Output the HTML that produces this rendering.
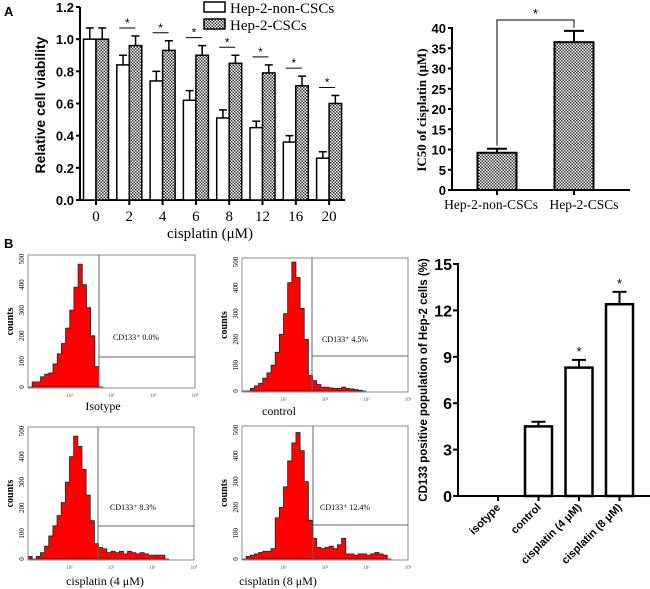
<!DOCTYPE html>
<html><head><meta charset="utf-8"><style>body{margin:0;background:#fff}svg{display:block}</style></head>
<body>
<svg id="fig" width="650" height="589" xmlns="http://www.w3.org/2000/svg">
<defs>
<pattern id="chk" width="3" height="3" patternUnits="userSpaceOnUse"><rect width="3" height="3" fill="#fff"/><rect width="1.5" height="1.5" fill="#333"/><rect x="1.5" y="1.5" width="1.5" height="1.5" fill="#333"/></pattern>
</defs>
<text x="4" y="16" font-family="Liberation Sans, sans-serif" font-weight="bold" font-size="13">A</text>
<text x="4" y="248" font-family="Liberation Sans, sans-serif" font-weight="bold" font-size="13">B</text>
<g id="ca"></g>
<g id="ci"></g>
<g id="cb"></g>
<g id="fl"></g>
</svg>
<script>
// Chart A data
const doses = ["0","2","4","6","8","12","16","20"];
const nonVals = [1.0,0.84,0.74,0.62,0.51,0.45,0.36,0.26];
const nonErr = [0.07,0.06,0.06,0.06,0.05,0.04,0.04,0.04];
const cscVals = [1.0,0.96,0.93,0.90,0.85,0.79,0.71,0.60];
const cscErr = [0.07,0.06,0.06,0.06,0.05,0.05,0.06,0.05];
const aTicks = ["0.0","0.2","0.4","0.6","0.8","1.0","1.2"];
// IC50 data
const icGroups = ["Hep-2-non-CSCs","Hep-2-CSCs"];
const icVals = [9.2,36.5];
const icErr = [1.0,2.8];
const icTicks = ["0","5","10","15","20","25","30","35","40"];
// CD133 chart data
const cdGroups = ["isotype","control","cisplatin (4 μM)","cisplatin (8 μM)"];
const cdVals = [0,4.5,8.3,12.4];
const cdErr = [0,0.3,0.5,0.8];
const cdStar = [false,false,true,true];
const cdTicks = ["0","3","6","9","12","15"];
// Flow histograms: counts per 0.1 log-decade bin starting at log 0
const hIso = [0,20,20,40,50,55,90,130,170,230,300,390,480,400,310,200,80,0];
const hCtrl = [0,0,10,20,30,50,70,100,150,220,300,420,500,440,320,200,60,40,25,15,15,12,10,10,15,10,8,5,3,0];
const hCis4 = [10,0,10,25,50,90,130,170,220,300,400,480,440,350,250,150,60,45,40,25,30,25,30,20,30,25,20,25,20,15,15,15,15,0];
const hCis8 = [0,10,15,20,25,30,30,40,160,200,280,380,450,490,420,300,150,80,45,40,45,50,40,55,80,20,20,15,20,20,15,20,25,20,15,0];
const flowLabels = ["CD133⁺ 0.0%","CD133⁺ 4.5%","CD133⁺ 8.3%","CD133⁺ 12.4%"];
const flowCaps = ["Isotype","control","cisplatin (4 μM)","cisplatin (8 μM)"];

const NS="http://www.w3.org/2000/svg";
function mk(parent,tag,attrs,text){const e=document.createElementNS(NS,tag);for(const k in attrs)e.setAttribute(k,attrs[k]);if(text!==undefined)e.textContent=text;parent.appendChild(e);return e;}
const SANS="Liberation Sans, sans-serif", SERIF="Liberation Serif, serif";

// ---- Chart A ----
(function(){
const g=document.getElementById('ca');
const x0=80,xEnd=345,yA=200,yTop=7;
const ys=v=>yA-(v/1.2)*(yA-yTop);
const cx=i=>96+i*33.3;
let e=mk(g,'line',{x1:x0,y1:yTop,x2:x0,y2:yA+1,stroke:'#000','stroke-width':2});

e=mk(g,'line',{x1:x0,y1:yA,x2:xEnd,y2:yA,stroke:'#000','stroke-width':2});

aTicks.forEach(t=>{const y=ys(parseFloat(t));mk(g,'line',{x1:x0-4,y1:y,x2:x0,y2:y,stroke:'#000','stroke-width':2});
 e=mk(g,'text',{x:x0-6,y:y+5,'text-anchor':'end','font-family':SANS,'font-weight':'bold','font-size':13},t);
 });
doses.forEach((d,i)=>{const c=cx(i);mk(g,'line',{x1:c,y1:yA,x2:c,y2:yA+5,stroke:'#000','stroke-width':2});
 e=mk(g,'text',{x:c,y:221,'text-anchor':'middle','font-family':SERIF,'font-size':15},d);
 
 const w=12.5;
 [[nonVals,nonErr,c-w,'#fff','bar-non-cscs'],[cscVals,cscErr,c,'url(#chk)','bar-cscs']].forEach(([v,er,bx,f,nm])=>{
  const yt=ys(v[i]),ye=ys(v[i]+er[i]);
  mk(g,'line',{x1:bx+w/2,y1:yt,x2:bx+w/2,y2:ye,stroke:'#000','stroke-width':1.5});
  mk(g,'line',{x1:bx+w/2-4,y1:ye,x2:bx+w/2+4,y2:ye,stroke:'#000','stroke-width':1.5});
  e=mk(g,'rect',{x:bx,y:yt,width:w,height:yA-yt,fill:f,stroke:'#000','stroke-width':1.5});
  });
 if(i>0){const yb=ys(cscVals[i]+cscErr[i])-8;
  mk(g,'line',{x1:c-10,y1:yb,x2:c+6,y2:yb,stroke:'#000','stroke-width':1});
  e=mk(g,'text',{x:c-2,y:yb-1,'text-anchor':'middle','font-family':SANS,'font-size':12},'*');
  }
});
e=mk(g,'text',{x:0,y:0,transform:'translate(45,105) rotate(-90)','text-anchor':'middle','font-family':SANS,'font-weight':'bold','font-size':14},'Relative cell viability');

e=mk(g,'text',{x:210,y:238,'text-anchor':'middle','font-family':SERIF,'font-size':15},'cisplatin (μM)');

[['#fff','Hep-2-non-CSCs',2],['url(#chk)','Hep-2-CSCs',19]].forEach(([f,t,y])=>{
 e=mk(g,'rect',{x:204,y:y,width:21,height:10,fill:f,stroke:'#000','stroke-width':1.5});
 
 e=mk(g,'text',{x:230,y:y+11,'font-family':SERIF,'font-size':15},t);
 });
})();

// ---- IC50 chart ----
(function(){
const g=document.getElementById('ci');
const x0=452,xEnd=630,yA=190,yTop=28;
const ys=v=>yA-(v/40)*(yA-yTop);
const cxs=[497,574];
const lxs=[491,584];
let e=mk(g,'line',{x1:x0,y1:yTop-1,x2:x0,y2:yA+1,stroke:'#000','stroke-width':2});

e=mk(g,'line',{x1:x0,y1:yA,x2:xEnd,y2:yA,stroke:'#000','stroke-width':2});

icTicks.forEach(t=>{const y=ys(+t);mk(g,'line',{x1:x0-4,y1:y,x2:x0,y2:y,stroke:'#000','stroke-width':2});
 e=mk(g,'text',{x:x0-6,y:y+5,'text-anchor':'end','font-family':SANS,'font-weight':'bold','font-size':13},t);
 });
icGroups.forEach((n,i)=>{const c=cxs[i],w=39,yt=ys(icVals[i]),ye=ys(icVals[i]+icErr[i]);
 mk(g,'line',{x1:c,y1:yA,x2:c,y2:yA+5,stroke:'#000','stroke-width':2});
 mk(g,'line',{x1:c,y1:yt,x2:c,y2:ye,stroke:'#000','stroke-width':2});
 mk(g,'line',{x1:c-10,y1:ye,x2:c+10,y2:ye,stroke:'#000','stroke-width':2});
 e=mk(g,'rect',{x:c-w/2,y:yt,width:w,height:yA-yt,fill:'url(#chk)',stroke:'#000','stroke-width':2});
 
 e=mk(g,'text',{x:lxs[i],y:209,'text-anchor':'middle','font-family':SERIF,'font-size':13.5},n);
 });
const yb=20;
mk(g,'polyline',{points:`${cxs[0]},${ys(icVals[0]+icErr[0])-3} ${cxs[0]},${yb} ${cxs[1]},${yb} ${cxs[1]},${ys(icVals[1]+icErr[1])-3}`,fill:'none',stroke:'#000','stroke-width':1});
e=mk(g,'text',{x:(cxs[0]+cxs[1])/2,y:yb-2,'text-anchor':'middle','font-family':SANS,'font-size':13},'*');

e=mk(g,'text',{x:0,y:0,transform:'translate(426,110) rotate(-90)','text-anchor':'middle','font-family':SERIF,'font-weight':'bold','font-size':13},'IC50 of cisplatin (μM)');

})();

// ---- CD133 chart ----
(function(){
const g=document.getElementById('cb');
const x0=458,xEnd=650,yA=496,yTop=264;
const ys=v=>yA-(v/15)*(yA-yTop);
const cx=i=>498+i*40.5;
let e=mk(g,'line',{x1:x0,y1:yTop-1,x2:x0,y2:yA+1,stroke:'#000','stroke-width':2});

e=mk(g,'line',{x1:x0,y1:yA,x2:xEnd,y2:yA,stroke:'#000','stroke-width':2});

cdTicks.forEach(t=>{const y=ys(+t);mk(g,'line',{x1:x0-5,y1:y,x2:x0,y2:y,stroke:'#000','stroke-width':2});
 e=mk(g,'text',{x:x0-6,y:y+6,'text-anchor':'end','font-family':SANS,'font-weight':'bold','font-size':16},t);
 });
cdGroups.forEach((n,i)=>{const c=cx(i),w=27;
 mk(g,'line',{x1:c,y1:yA,x2:c,y2:yA+5,stroke:'#000','stroke-width':2});
 if(cdVals[i]>0){const yt=ys(cdVals[i]),ye=ys(cdVals[i]+cdErr[i]);
  mk(g,'line',{x1:c,y1:yt,x2:c,y2:ye,stroke:'#000','stroke-width':2});
  mk(g,'line',{x1:c-7,y1:ye,x2:c+7,y2:ye,stroke:'#000','stroke-width':2});
  e=mk(g,'rect',{x:c-w/2,y:yt,width:w,height:yA-yt,fill:'#fff',stroke:'#000','stroke-width':2.5});
  
  if(cdStar[i]){e=mk(g,'text',{x:c,y:ye-4,'text-anchor':'middle','font-family':SANS,'font-size':13},'*');
   }}
 e=mk(g,'text',{x:0,y:0,transform:`translate(${c+3},${yA+12}) rotate(-45)`,'text-anchor':'end','font-family':SANS,'font-weight':'bold','font-size':11},n);
 });
e=mk(g,'text',{x:0,y:0,transform:'translate(427,380) rotate(-90)','text-anchor':'middle','font-family':SANS,'font-weight':'bold','font-size':11.5},'CD133 positive population of Hep-2 cells (%)');

})();

// ---- Flow panels ----
(function(){
const g=document.getElementById('fl');
const panels=[[28,255,167,133,99,357,hIso,113,340],[242,258,166,134,312,356,hCtrl,322,342],[28,427,166,133,98,526,hCis4,110,510],[242,426,166,134,313,525,hCis8,320,510]];
const capPos=[[103,410],[279,415],[105,585],[278,585]];
panels.forEach(([px,py,pw,ph,gx,gy,h,lx,ly],k)=>{
 const pg=mk(g,'g',{});
 
 const bot=py+ph-1, scY=(ph-5)/500, xs=l=>px+pw*l/4;
 let pts=`${xs(0)},${bot}`;
 h.forEach((c,j)=>{const y=bot-c*scY;pts+=` ${xs(j*0.1)},${y} ${xs((j+1)*0.1)},${y}`;});
 pts+=` ${xs(h.length*0.1)},${bot}`;
 let e=mk(pg,'polygon',{points:pts,fill:'#f00',stroke:'#222','stroke-width':0.8});
 
 mk(pg,'rect',{x:px,y:py,width:pw,height:ph,fill:'none',stroke:'#888','stroke-width':1});
 mk(pg,'line',{x1:gx,y1:py,x2:gx,y2:py+ph,stroke:'#666','stroke-width':1});
 mk(pg,'line',{x1:gx,y1:gy,x2:px+pw,y2:gy,stroke:'#666','stroke-width':1});
 ["0","100","200","300","400","500"].forEach((t,j)=>{const y=bot-(+t)*scY;
  mk(pg,'text',{x:0,y:0,transform:`translate(${px-4},${y}) rotate(-90)`,'text-anchor':'middle','font-family':SERIF,'font-size':7},t);});
 for(let d=1;d<=4;d++){mk(pg,'text',{x:xs(d),y:py+ph+9,'text-anchor':'middle','font-family':SERIF,'font-size':5,fill:'#555'},'10'+['','¹','²','³','⁴'][d]);}
 e=mk(pg,'text',{x:0,y:0,transform:`translate(${px-15},${py+ph/2}) rotate(-90)`,'text-anchor':'middle','font-family':SERIF,'font-weight':'bold','font-size':10},'counts');
 
 e=mk(pg,'text',{x:lx,y:ly,'font-family':SERIF,'font-size':8},flowLabels[k]);
 
 e=mk(pg,'text',{x:capPos[k][0],y:capPos[k][1],'text-anchor':'middle','font-family':SERIF,'font-size':12},flowCaps[k]);
 
});
})();
</script>
</body></html>
